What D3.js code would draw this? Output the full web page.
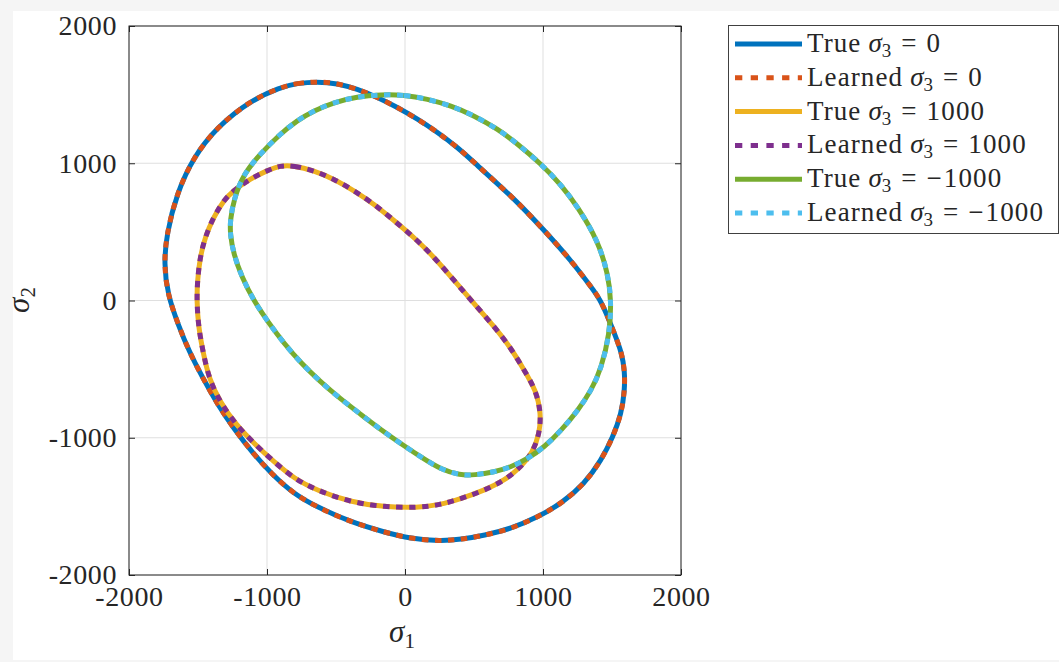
<!DOCTYPE html>
<html>
<head>
<meta charset="utf-8">
<script src="https://cdn.jsdelivr.net/npm/d3@7"></script>
<style>
	html, body { margin: 0; padding: 0; background: #f5f5f5; }
	svg { display: block; }
	text { font-family: "Liberation Serif", "Times New Roman", serif; fill: #262626; }
</style>
</head>
<body>
<svg id="chart" width="1059" height="662"></svg>
<script>
// points, [sigma1, sigma2], going clockwise
var trueS0_s1 = [-904, -782, -637, -492, -346, -201, -56, 90, 235, 380, 526, 671, 816, 1010, 1204, 1350, 1422, 1519, 1570, 1592, 1592, 1568, 1507, 1422, 1301, 1132, 962, 768, 574, 405, 259, 41, -153, -395, -637, -807, -965, -1100, -1240, -1362, -1468, -1565, -1642, -1720, -1747, -1727, -1655, -1533, -1364, -1122];
var trueS0_s2 = [1553, 1583, 1595, 1583, 1541, 1481, 1408, 1323, 1226, 1117, 983, 850, 716, 510, 291, 97, 0, -243, -380, -510, -655, -825, -995, -1165, -1335, -1481, -1578, -1663, -1712, -1741, -1753, -1736, -1687, -1614, -1505, -1408, -1265, -1115, -935, -750, -560, -370, -180, 40, 270, 485, 777, 1044, 1262, 1456];

var trueS1000_s1 = [-904, -807, -661, -516, -371, -225, -80, 65, 211, 356, 501, 647, 770, 865, 950, 986, 974, 926, 841, 720, 574, 405, 250, 90, -153, -395, -637, -800, -950, -1090, -1225, -1340, -1420, -1461, -1497, -1509, -1504, -1485, -1449, -1388, -1315, -1243, -1122, -1000];
var trueS1000_s2 = [983, 983, 947, 886, 801, 704, 583, 461, 316, 146, -24, -190, -350, -510, -655, -825, -971, -1105, -1214, -1311, -1384, -1444, -1490, -1510, -1505, -1469, -1384, -1300, -1175, -1045, -905, -740, -570, -388, -194, 0, 146, 316, 461, 607, 728, 801, 886, 947];

var trueSm1000_s1 = [-177, -7, 162, 332, 501, 671, 816, 986, 1130, 1253, 1398, 1471, 1495, 1483, 1422, 1350, 1253, 1132, 1010, 889, 768, 647, 502, 400, 260, 130, -20, -170, -320, -470, -615, -750, -875, -990, -1097, -1182, -1243, -1267, -1267, -1240, -1170, -1049, -904, -782, -661, -516, -346];
var trueSm1000_s2 = [1500, 1498, 1468, 1420, 1347, 1250, 1141, 995, 845, 680, 437, 194, 0, -243, -497, -655, -801, -947, -1068, -1153, -1214, -1250, -1272, -1274, -1230, -1150, -1050, -945, -830, -715, -590, -460, -315, -160, 0, 170, 340, 485, 583, 740, 922, 1068, 1214, 1311, 1383, 1444, 1485];

// the learned surfaces sit right on top of the true ones
var learnedS0_s1 = trueS0_s1.slice(), learnedS0_s2 = trueS0_s2.slice();
var learnedS1000_s1 = trueS1000_s1.slice(), learnedS1000_s2 = trueS1000_s2.slice();
var learnedSm1000_s1 = trueSm1000_s1.slice(), learnedSm1000_s2 = trueSm1000_s2.slice();

var tickValues = [-2000, -1000, 0, 1000, 2000];
var seriesNames = ["True", "Learned", "True", "Learned", "True", "Learned"];
var seriesSigma3 = ["0", "0", "1000", "1000", "\u22121000", "\u22121000"];

var series = [
	{ s1: trueS0_s1, s2: trueS0_s2, color: "#0072BD", dotted: false },
	{ s1: learnedS0_s1, s2: learnedS0_s2, color: "#D95319", dotted: true },
	{ s1: trueS1000_s1, s2: trueS1000_s2, color: "#EDB120", dotted: false },
	{ s1: learnedS1000_s1, s2: learnedS1000_s2, color: "#7E2F8E", dotted: true },
	{ s1: trueSm1000_s1, s2: trueSm1000_s2, color: "#77AC30", dotted: false },
	{ s1: learnedSm1000_s1, s2: learnedSm1000_s2, color: "#4DBEEE", dotted: true }
];

var svg = d3.select("#chart");

// white figure area
svg.append("rect")
	.attr("x", 13).attr("y", 11)
	.attr("width", 1059 - 13).attr("height", 660 - 11)
	.attr("fill", "#ffffff");

var plot = {left: 129, right: 681, top: 26, bottom: 575};

var x = d3.scaleLinear().domain([-2000, 2000]).range([plot.left, plot.right]);
var y = d3.scaleLinear().domain([-2000, 2000]).range([plot.bottom, plot.top]);

// grid
var grid = svg.append("g");
grid.selectAll(".gx")
	.data(tickValues)
	.enter().append("line")
	.attr("x1", function(d) { return x(d); })
	.attr("x2", function(d) { return x(d); })
	.attr("y1", plot.top).attr("y2", plot.bottom)
	.attr("stroke", "#dfdfdf").attr("stroke-width", 1);
grid.selectAll(".gy")
	.data(tickValues)
	.enter().append("line")
	.attr("y1", function(d) { return y(d); })
	.attr("y2", function(d) { return y(d); })
	.attr("x1", plot.left).attr("x2", plot.right)
	.attr("stroke", "#dfdfdf").attr("stroke-width", 1);

// curves (b-spline smooths out the reading noise)
var line = d3.line()
	.x(function(d) { return x(d[0]); })
	.y(function(d) { return y(d[1]); })
	.curve(d3.curveBasisClosed);

var curves = svg.append("g");
series.forEach(function(s) {
	var points = s.s1.map(function(v, i) { return [v, s.s2[i]]; });
	curves.append("path")
		.attr("d", line(points))
		.attr("fill", "none")
		.attr("stroke", s.color)
		.attr("stroke-width", 5)
		.attr("stroke-dasharray", s.dotted ? "6.5,6.5" : null);
});

// axes, ticks pointing inwards, box on
var tickSize = 6;
function axisStyle(g) {
	g.select(".domain").remove();
	g.selectAll(".tick line").attr("stroke", "#262626");
	g.selectAll(".tick text")
		.attr("font-size", 28)
		.attr("letter-spacing", 0.6)
		.attr("fill", "#262626")
		.style("font-family", "'Liberation Serif', serif");
}
function fmt(d) { return d < 0 ? "-" + Math.abs(d) : String(d); }

svg.append("g")
	.attr("transform", "translate(0," + plot.bottom + ")")
	.call(d3.axisBottom(x).tickValues(tickValues).tickSize(-tickSize).tickFormat(fmt))
	.call(axisStyle)
	.selectAll(".tick text").attr("dy", "0.71em").attr("y", 11);

svg.append("g")
	.attr("transform", "translate(" + plot.left + ",0)")
	.call(d3.axisLeft(y).tickValues(tickValues).tickSize(-tickSize).tickFormat(fmt))
	.call(axisStyle)
	.selectAll(".tick text").attr("x", -12);

svg.append("g")
	.attr("transform", "translate(0," + plot.top + ")")
	.call(d3.axisTop(x).tickValues(tickValues).tickSize(-tickSize).tickFormat(""))
	.call(axisStyle);

svg.append("g")
	.attr("transform", "translate(" + plot.right + ",0)")
	.call(d3.axisRight(y).tickValues(tickValues).tickSize(-tickSize).tickFormat(""))
	.call(axisStyle);

svg.append("rect")
	.attr("x", plot.left).attr("y", plot.top)
	.attr("width", plot.right - plot.left).attr("height", plot.bottom - plot.top)
	.attr("fill", "none").attr("stroke", "#262626").attr("stroke-width", 1);

// axis labels
var xl = svg.append("text")
	.attr("x", 402).attr("y", 642)
	.attr("text-anchor", "middle")
	.attr("font-size", 31);
xl.append("tspan").attr("font-style", "italic").text("\u03C3");
xl.append("tspan").attr("font-size", 21).attr("dy", 6).text("1");

var yl = svg.append("text")
	.attr("transform", "translate(29,300) rotate(-90)")
	.attr("text-anchor", "middle")
	.attr("font-size", 31);
yl.append("tspan").attr("font-style", "italic").text("\u03C3");
yl.append("tspan").attr("font-size", 21).attr("dy", 6).text("2");

// legend
var legend = svg.append("g");
legend.append("rect")
	.attr("x", 728.5).attr("y", 25.5)
	.attr("width", 330).attr("height", 208)
	.attr("fill", "#ffffff")
	.attr("stroke", "#404040").attr("stroke-width", 1);

var rowY = d3.scalePoint().domain(d3.range(series.length)).range([44, 213]);

series.forEach(function(s, i) {
	var cy = rowY(i);
	legend.append("line")
		.attr("x1", 735).attr("x2", 802)
		.attr("y1", cy).attr("y2", cy)
		.attr("stroke", s.color)
		.attr("stroke-width", 5)
		.attr("stroke-dasharray", s.dotted ? "7.3,8.4" : null);
	var t = legend.append("text")
		.attr("x", 807).attr("y", cy + 8)
		.attr("font-size", 27);
	var value = seriesSigma3[i];
	t.append("tspan").attr("letter-spacing", 1.1).text(seriesNames[i]);
	t.append("tspan").attr("dx", 7).attr("font-style", "italic").text("\u03C3");
	t.append("tspan").attr("font-size", 19).attr("dy", 5).text("3");
	t.append("tspan").attr("dx", 10).attr("dy", -5).text("=");
	if (value.charAt(0) === "\u2212") {
		t.append("tspan").attr("dx", 10).attr("letter-spacing", 2).text("\u2212");
		t.append("tspan").attr("letter-spacing", 1.2).text(value.slice(1));
	}
	else {
		t.append("tspan").attr("dx", 10).attr("letter-spacing", 1.2).text(value);
	}
});
</script>
</body>
</html>
